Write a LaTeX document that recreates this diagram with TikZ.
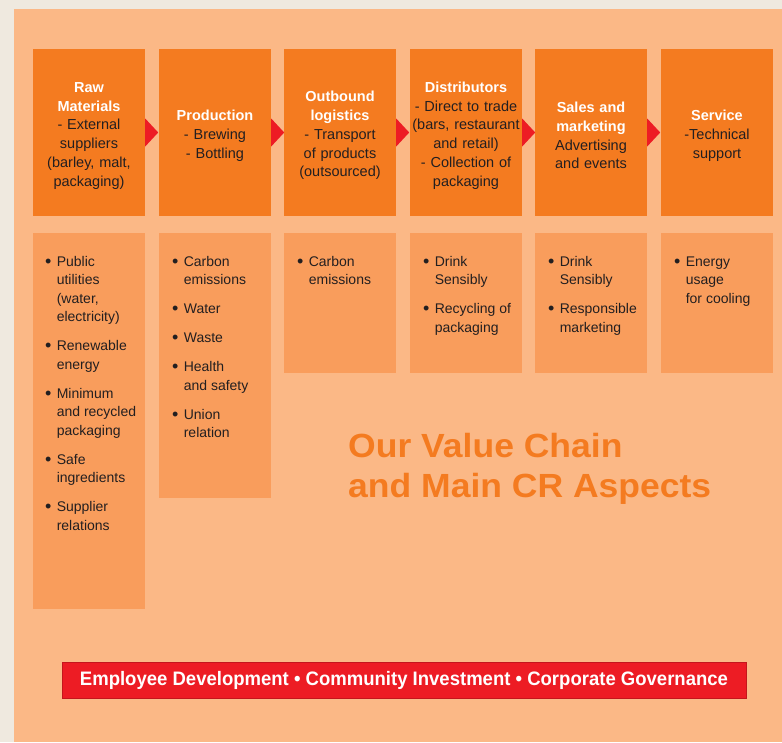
\documentclass[tikz,border=0pt]{standalone}
\usepackage{fontspec}
\setmainfont{Liberation Sans}
\newfontfamily\headingfont{Liberation Sans}[FakeStretch=1.06]
\newfontfamily\themefont{Liberation Sans}[FakeStretch=0.95]
\definecolor{cream}{HTML}{EFE9DF}
\definecolor{panel}{HTML}{FBB886}
\definecolor{stageorange}{HTML}{F47B20}
\definecolor{aspectorange}{HTML}{F99D5C}
\definecolor{chainred}{HTML}{ED1C24}
\definecolor{barred}{HTML}{C4161C}
\definecolor{ink}{HTML}{231F20}

% stage heading in white bold; the strut lowers the centred text a little
\newcommand{\stagehead}[1]{\rule{0pt}{16.5pt}{\bfseries\color{white}#1}}
% bullet list of aspects: bullet column + text column
\newcommand{\aspectlist}[1]{%
  \fontsize{14}{18.5}\selectfont
  \begin{tabular}{@{}l@{\hspace{5.5pt}}l@{}}#1\end{tabular}}
\newcommand{\bul}{\raisebox{-1.2pt}{\fontsize{18}{18}\selectfont\textbullet}}
\newcommand{\gap}{\\[10.5pt]}

\begin{document}
\begin{tikzpicture}[x=1pt,y=-1pt,
  stage/.style={rectangle, fill=stageorange, minimum width=112pt,
    minimum height=167pt, inner sep=0pt, text width=110pt, align=center,
    text=ink, font=\fontsize{14.5}{18.8}\selectfont},
  aspectbox/.style={rectangle, fill=aspectorange, minimum width=112pt,
    inner sep=0pt, anchor=north},
  aspecttext/.style={anchor=north west, inner sep=0pt, text=ink},
  chevron/.style={fill=chainred},
  title/.style={anchor=base west, inner sep=0pt, text=stageorange,
    font=\fontsize{33.5}{40}\selectfont\headingfont\bfseries}
]
% page and panel
\fill[cream] (0,0) rectangle (782,742);
\fill[panel] (14,9) rectangle (782,742);
\useasboundingbox (0,0) rectangle (782,742);

% value chain stages
\node[stage] (s1) at (89,132.5) {\stagehead{Raw\\Materials}\\- External\\suppliers\\(barley, malt,\\packaging)};
\node[stage] (s2) at (215,132.5) {\stagehead{Production}\\- Brewing\\- Bottling};
\node[stage] (s3) at (340,132.5) {\stagehead{Outbound\\logistics}\\- Transport\\of products\\(outsourced)};
\node[stage] (s4) at (466,132.5) {\stagehead{Distributors}\\- Direct to trade\\(bars, restaurant\\and retail)\\- Collection of\\packaging};
\node[stage] (s5) at (591,132.5) {\stagehead{Sales and\\marketing}\\Advertising\\and events};
\node[stage] (s6) at (717,132.5) {\stagehead{Service}\\-Technical\\support};

% chevrons between stages
\foreach \s in {s1,s2,s3,s4,s5}
  \fill[chevron] (\s.east) ++(0,-14) -- ++(13,14) -- ++(-13,14) -- cycle;

% aspect boxes
\node[aspectbox, minimum height=376pt] (a1) at (89,233) {};
\node[aspectbox, minimum height=265pt] (a2) at (215,233) {};
\node[aspectbox, minimum height=140pt] (a3) at (340,233) {};
\node[aspectbox, minimum height=140pt] (a4) at (466,233) {};
\node[aspectbox, minimum height=140pt] (a5) at (591,233) {};
\node[aspectbox, minimum height=140pt] (a6) at (717,233) {};

\node[aspecttext] (l1) at ([xshift=12pt,yshift=-20pt]a1.north west) {\aspectlist{%
  \bul & Public\\ & utilities\\ & (water,\\ & electricity)\gap
  \bul & Renewable\\ & energy\gap
  \bul & Minimum\\ & and recycled\\ & packaging\gap
  \bul & Safe\\ & ingredients\gap
  \bul & Supplier\\ & relations}};
\node[aspecttext] (l2) at ([xshift=13pt,yshift=-20pt]a2.north west) {\aspectlist{%
  \bul & Carbon\\ & emissions\gap
  \bul & Water\gap
  \bul & Waste\gap
  \bul & Health\\ & and safety\gap
  \bul & Union\\ & relation}};
\node[aspecttext] (l3) at ([xshift=13pt,yshift=-20pt]a3.north west) {\aspectlist{%
  \bul & Carbon\\ & emissions}};
\node[aspecttext] (l4) at ([xshift=13pt,yshift=-20pt]a4.north west) {\aspectlist{%
  \bul & Drink\\ & Sensibly\gap
  \bul & Recycling of\\ & packaging}};
\node[aspecttext] (l5) at ([xshift=13pt,yshift=-20pt]a5.north west) {\aspectlist{%
  \bul & Drink\\ & Sensibly\gap
  \bul & Responsible\\ & marketing}};
\node[aspecttext] (l6) at ([xshift=13pt,yshift=-20pt]a6.north west) {\aspectlist{%
  \bul & Energy\\ & usage\\ & for cooling}};

% heading
\node[title] (h1) at (348,457) {Our Value Chain};
\node[title] (h2) at (348,497) {and Main CR Aspects};

% cross-cutting themes bar
\node[rectangle, fill=chainred, draw=barred, line width=0.8pt,
  minimum width=684pt, minimum height=36pt, inner sep=0pt, text=white,
  font=\fontsize{19.5}{22}\selectfont\themefont\bfseries] (bar) at (404,680)
  {Employee Development \textbullet\ Community Investment \textbullet\ Corporate Governance};
\end{tikzpicture}
\end{document}
